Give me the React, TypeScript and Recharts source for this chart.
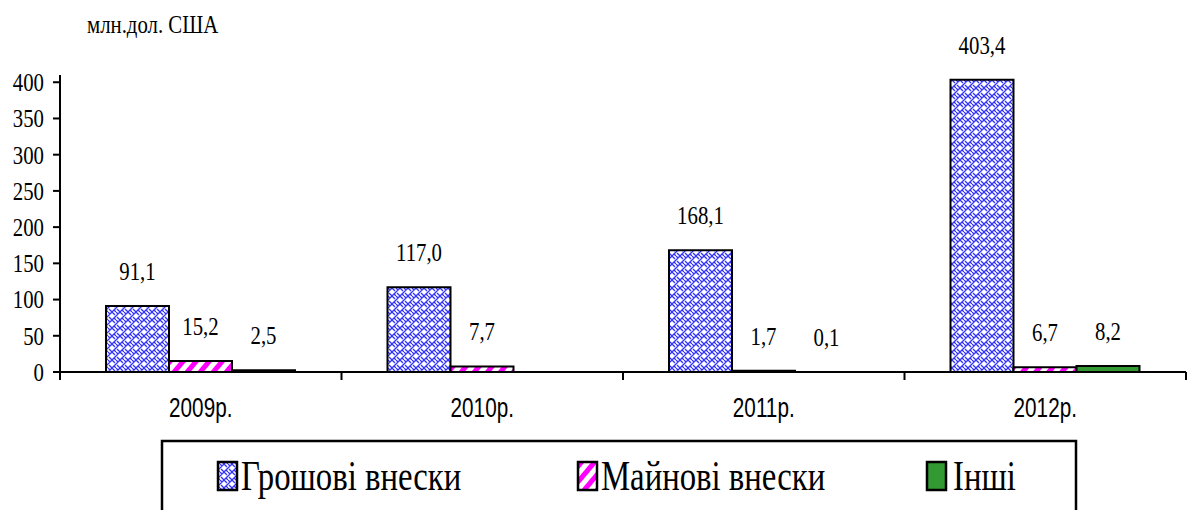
import React from 'react';
import { BarChart, Bar, XAxis, YAxis, LabelList } from 'recharts';

const years = ['2009р.', '2010р.', '2011р.', '2012р.'];
const cashValues = [91.1, 117.0, 168.1, 403.4];
const propertyValues = [15.2, 7.7, 1.7, 6.7];
const otherValues: (number | null)[] = [2.5, null, 0.1, 8.2];
const yTicks = [0, 50, 100, 150, 200, 250, 300, 350, 400];
const seriesNames = ['Грошові внески', 'Майнові внески', 'Інші'];
const unitLabel = 'млн.дол. США';

const data = years.map((y, i) => ({
  year: y,
  cash: cashValues[i],
  property: propertyValues[i],
  other: otherValues[i],
}));

const W = 1192;
const H = 510;
const MARGIN = { top: 75, right: 6, left: 0, bottom: 108 };
const Y_W = 60;
const X_H = 30;
const BAND = (W - MARGIN.left - Y_W - MARGIN.right) / years.length;

const fmt = (v: number) => v.toFixed(1).replace('.', ',');

const Patterns = ({ suffix }: { suffix: string }) => (
  <defs>
    <pattern id={`weave${suffix}`} width="8" height="8" patternUnits="userSpaceOnUse">
      <rect width="8" height="8" fill="#ffffff" />
      <path d="M0 8 L8 0 M-2 2 L2 -2 M6 10 L10 6 M0 0 L3 3 M5 5 L8 8 M4 0 L6 2 M2 6 L4 8" stroke="#3333ff" strokeWidth="1.3" fill="none" />
    </pattern>
    <pattern id={`stripe${suffix}`} width="10" height="10" patternUnits="userSpaceOnUse" patternTransform="rotate(40)">
      <rect width="10" height="10" fill="#ffffff" />
      <rect width="5" height="10" fill="#ff00ff" />
    </pattern>
  </defs>
);

const SerifText = ({ children, transform, anchor, size, central }: any) => (
  <text
    transform={transform}
    textAnchor={anchor || 'start'}
    dominantBaseline={central ? 'central' : undefined}
    style={{ fontFamily: "'Liberation Serif'", fontSize: size }}
    fill="#000"
  >
    {children}
  </text>
);

const YTick = (props: any) => {
  const { x, y, payload } = props;
  return (
    <SerifText transform={`translate(${x - 7},${y}) scale(0.8,1)`} anchor="end" size={26} central>
      {payload.value}
    </SerifText>
  );
};

const XTick = (props: any) => {
  const { x, y, payload, index } = props;
  const last = index === years.length - 1;
  return (
    <g>
      <line x1={x - BAND / 2} x2={x - BAND / 2} y1={y} y2={y + 8} stroke="#000" strokeWidth={2} />
      {last && <line x1={x + BAND / 2} x2={x + BAND / 2} y1={y} y2={y + 8} stroke="#000" strokeWidth={2} />}
      <text
        transform={`translate(${x},${y + 35}) scale(0.74,1)`}
        textAnchor="middle"
        dominantBaseline="central"
        style={{ fontFamily: "'Liberation Sans'", fontSize: 28 }}
        fill="#000"
      >
        {payload.value}
      </text>
    </g>
  );
};

const ValueLabel = (props: any) => {
  const { x, y, width, value } = props;
  if (value === null || value === undefined) return null;
  return (
    <SerifText transform={`translate(${x + width / 2},${y - 35}) scale(0.8,1)`} anchor="middle" size={26} central>
      {fmt(value)}
    </SerifText>
  );
};

const legendItems = [
  { name: seriesNames[0], fill: 'url(#weaveL)', sx: 218, tx: 241 },
  { name: seriesNames[1], fill: 'url(#stripeL)', sx: 578, tx: 601 },
  { name: seriesNames[2], fill: '#339933', sx: 927, tx: 953 },
];

export default function App() {
  return (
    <div style={{ position: 'absolute', left: 0, top: 0, width: W, height: H, background: '#fff', overflow: 'hidden' }}>
      <BarChart width={W} height={H} data={data} margin={MARGIN} barGap={0}>
        <Patterns suffix="" />
        <XAxis
          dataKey="year"
          height={X_H}
          axisLine={{ stroke: '#000', strokeWidth: 2 }}
          tickLine={false}
          tickSize={0}
          tickMargin={0}
          tick={<XTick />}
          interval={0}
        />
        <YAxis
          width={Y_W}
          domain={[0, 410]}
          ticks={yTicks}
          axisLine={{ stroke: '#000', strokeWidth: 2 }}
          tickLine={{ stroke: '#000', strokeWidth: 2 }}
          tickSize={7}
          tick={<YTick />}
          interval={0}
        />
        <Bar dataKey="cash" name={seriesNames[0]} barSize={63} fill="url(#weave)" stroke="#000" strokeWidth={2} isAnimationActive={false}>
          <LabelList dataKey="cash" content={<ValueLabel />} />
        </Bar>
        <Bar dataKey="property" name={seriesNames[1]} barSize={63} fill="url(#stripe)" stroke="#000" strokeWidth={2} isAnimationActive={false}>
          <LabelList dataKey="property" content={<ValueLabel />} />
        </Bar>
        <Bar dataKey="other" name={seriesNames[2]} barSize={63} fill="#339933" stroke="#000" strokeWidth={2} isAnimationActive={false}>
          <LabelList dataKey="other" content={<ValueLabel />} />
        </Bar>
      </BarChart>
      <svg width={W} height={H} style={{ position: 'absolute', left: 0, top: 0, pointerEvents: 'none' }}>
        <Patterns suffix="L" />
        <SerifText transform="translate(87,33) scale(0.8,1)" size={26}>
          {unitLabel}
        </SerifText>
        <rect x={162} y={441} width={914} height={90} fill="#fff" stroke="#000" strokeWidth={2.5} />
        {legendItems.map((it) => (
          <g key={it.name}>
            <rect x={it.sx} y={462} width={19} height={28} fill={it.fill} stroke="#000" strokeWidth={2.5} />
            <SerifText transform={`translate(${it.tx},490) scale(0.78,1)`} size={42}>
              {it.name}
            </SerifText>
          </g>
        ))}
      </svg>
    </div>
  );
}
